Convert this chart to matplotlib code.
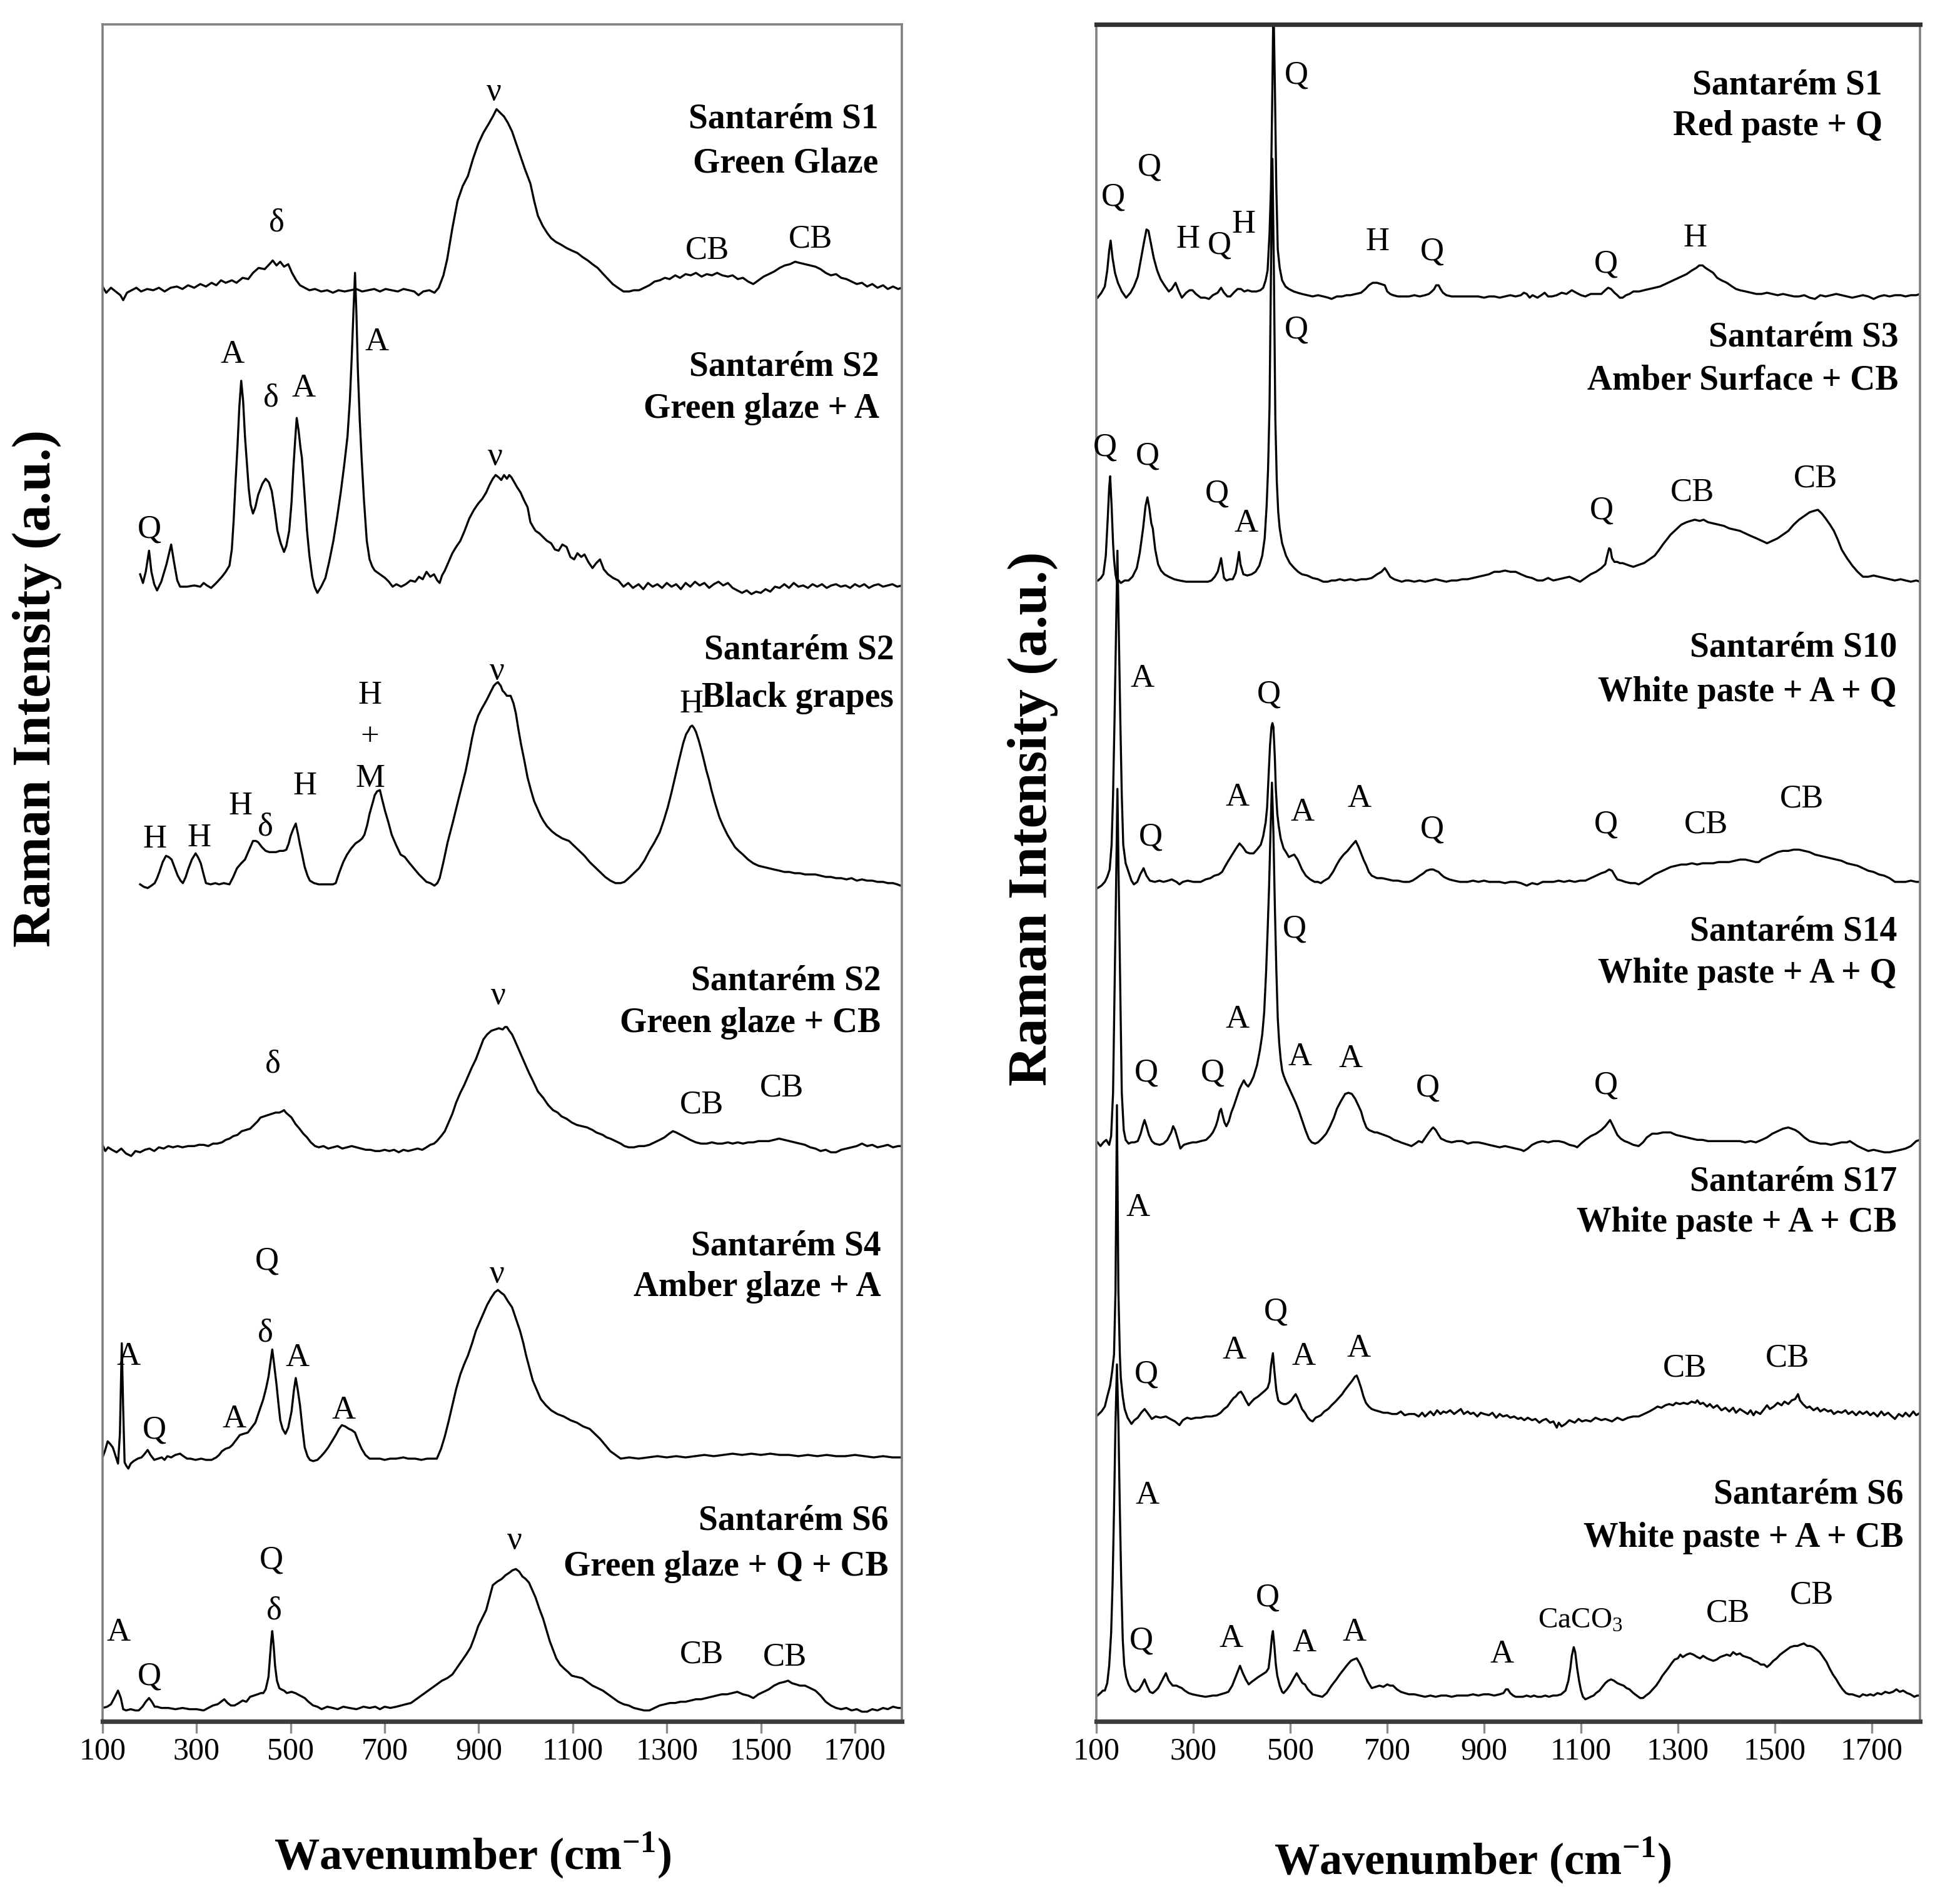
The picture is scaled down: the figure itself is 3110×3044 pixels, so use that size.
import numpy as np
import matplotlib
matplotlib.use('Agg')
import matplotlib.pyplot as plt

plt.rcParams['font.family'] = ['Liberation Serif', 'DejaVu Serif']
plt.rcParams['mathtext.fontset'] = 'custom'
plt.rcParams['mathtext.rm'] = 'Liberation Serif'
plt.rcParams['mathtext.bf'] = 'Liberation Serif:bold'

# ---- spectra: (wavenumber cm-1, intensity a.u.) ----
# left panel (glazes)
glaze_s1 = [(100,3),(108,-2),(118,2),(128,-1),(138,-4),(144,-8),(152,-2),(162,0),(172,2),(182,-1),(195,1),(208,0),(220,2),(232,-1),(245,2),(258,3),(270,1),(282,4),(295,2),(308,5),(320,3),(332,6),(342,4),(352,8),(362,6),(375,8),(385,6),(398,10),(410,9),(420,14),(432,18),(445,17),(455,21),(462,24),(470,20),(478,23),(486,19),(495,21),(503,14),(512,8),(520,4),(530,2),(540,0),(552,1),(565,-1),(578,0),(590,-2),(602,0),(615,-1),(628,0),(640,1),(652,-1),(665,0),(678,1),(690,-1),(702,1),(715,0),(728,-1),(740,1),(752,0),(763,-1),(772,-4),(782,-1),(795,0),(806,-2),(815,2),(825,12),(833,25),(844,50),(855,72),(866,84),(877,92),(888,106),(899,118),(910,127),(921,134),(930,140),(938,146),(946,143),(954,140),(962,135),(971,128),(980,118),(988,109),(998,98),(1010,86),(1018,72),(1026,60),(1036,52),(1046,46),(1054,42),(1064,39),(1074,37),(1087,34),(1098,32),(1110,30),(1120,27),(1132,24),(1142,21),(1153,18),(1165,13),(1175,9),(1185,5),(1196,2),(1208,-1),(1220,-1),(1230,0),(1241,0),(1252,2),(1263,4),(1274,7),(1285,8),(1296,10),(1306,9),(1318,12),(1328,10),(1340,13),(1351,12),(1362,14),(1374,11),(1385,13),(1396,12),(1407,14),(1418,12),(1430,11),(1440,12),(1451,9),(1462,10),(1473,7),(1484,5),(1495,8),(1506,11),(1517,13),(1528,15),(1540,18),(1551,20),(1562,21),(1573,23),(1583,22),(1594,21),(1605,20),(1616,19),(1627,17),(1638,14),(1649,12),(1660,13),(1671,10),(1682,9),(1693,7),(1704,5),(1715,6),(1726,3),(1737,5),(1748,2),(1760,4),(1770,1),(1781,3),(1792,1),(1800,2)]

glaze_s2_a = [(180,10),(186,3),(192,12),(199,29),(204,12),(210,2),(216,-3),(225,4),(236,18),(246,34),(252,20),(259,5),(265,0),(280,0),(295,1),(308,0),(315,3),(322,1),(331,-1),(342,3),(354,8),(362,12),(370,17),(375,30),(379,54),(383,85),(387,113),(391,145),(395,166),(399,150),(403,121),(407,100),(411,79),(415,66),(420,59),(425,64),(431,74),(440,83),(447,87),(454,84),(460,77),(466,62),(472,45),(479,35),(486,28),(491,33),(497,45),(502,68),(506,96),(510,120),(513,136),(517,126),(521,112),(524,104),(529,78),(535,45),(540,25),(546,8),(551,0),(557,-5),(565,0),(574,7),(582,20),(591,37),(599,56),(607,77),(614,98),(621,121),(626,150),(630,185),(634,225),(637,253),(640,220),(643,175),(647,135),(651,104),(656,70),(662,37),(668,22),(674,16),(679,13),(690,10),(701,7),(709,4),(717,0),(725,2),(735,0),(745,2),(755,5),(765,4),(773,8),(781,6),(789,12),(797,8),(805,10),(812,5),(817,3),(822,9),(828,13),(836,20),(844,27),(852,32),(861,37),(870,45),(880,55),(890,62),(899,67),(908,71),(916,76),(923,82),(930,87),(936,90),(943,88),(948,86),(954,90),(960,87),(965,90),(970,88),(976,84),(982,80),(989,76),(996,70),(1004,64),(1010,52),(1016,48),(1021,45),(1029,43),(1037,40),(1045,37),(1054,35),(1062,30),(1070,29),(1078,34),(1087,32),(1095,24),(1103,22),(1110,27),(1118,24),(1125,26),(1133,20),(1142,15),(1150,19),(1158,22),(1166,14),(1175,10),(1186,7),(1197,5),(1208,0),(1218,3),(1228,-1),(1240,2),(1250,-2),(1260,3),(1270,0),(1280,2),(1290,-1),(1300,3),(1310,0),(1320,2),(1330,-2),(1340,3),(1350,0),(1360,4),(1370,1),(1380,3),(1390,-1),(1400,2),(1410,4),(1420,1),(1430,3),(1440,-1),(1450,-3),(1460,-5),(1470,-3),(1480,-6),(1490,-4),(1500,-5),(1510,-2),(1520,-4),(1530,0),(1540,-1),(1550,2),(1560,-1),(1570,3),(1580,0),(1590,1),(1600,-1),(1610,2),(1620,0),(1630,2),(1640,-1),(1650,1),(1660,2),(1670,0),(1680,1),(1690,-1),(1700,2),(1710,0),(1720,2),(1730,-1),(1740,1),(1750,2),(1760,0),(1770,1),(1780,2),(1790,0),(1800,1)]

grapes_s2 = [(180,0),(188,-2),(196,-3),(204,-1),(211,1),(216,5),(221,10),(228,18),(235,23),(241,22),(247,20),(254,13),(260,7),(266,3),(271,1),(277,6),(282,12),(290,20),(298,25),(303,22),(309,17),(315,8),(320,1),(330,0),(340,1),(348,0),(358,1),(370,0),(378,6),(386,13),(395,17),(403,20),(412,28),(420,35),(426,35),(431,34),(439,30),(447,27),(455,26),(462,26),(469,26),(477,27),(485,27),(491,28),(496,33),(500,39),(506,45),(511,49),(516,40),(520,32),(524,25),(530,14),(536,7),(541,3),(550,1),(560,0),(568,0),(580,0),(590,0),(596,1),(603,9),(612,18),(620,24),(629,29),(638,33),(646,35),(652,37),(657,40),(663,48),(668,57),(674,65),(679,72),(684,75),(690,76),(695,68),(701,59),(708,50),(715,40),(724,32),(734,24),(743,22),(751,18),(762,13),(773,8),(781,5),(789,2),(797,1),(806,-1),(812,1),(817,5),(825,18),(834,34),(845,50),(856,67),(864,79),(872,91),(879,104),(886,118),(892,128),(899,136),(907,142),(916,148),(924,154),(932,160),(937,162),(941,163),(947,160),(951,156),(954,155),(960,152),(968,152),(974,146),(979,138),(984,126),(990,113),(997,100),(1004,86),(1011,76),(1018,67),(1025,61),(1032,55),(1038,51),(1045,47),(1055,43),(1065,40),(1078,37),(1092,35),(1103,31),(1114,27),(1125,23),(1136,18),(1147,14),(1158,10),(1169,6),(1180,3),(1191,1),(1202,1),(1210,2),(1219,5),(1230,9),(1241,13),(1252,19),(1263,27),(1274,34),(1285,42),(1294,52),(1302,62),(1310,74),(1318,87),(1326,100),(1335,114),(1341,121),(1346,124),(1350,127),(1354,128),(1358,126),(1362,123),(1368,116),(1373,109),(1379,100),(1384,92),(1390,84),(1395,76),(1403,65),(1412,54),(1420,47),(1429,40),(1437,35),(1445,30),(1453,27),(1462,24),(1473,20),(1484,17),(1495,15),(1506,14),(1517,13),(1528,12),(1540,11),(1550,10),(1561,10),(1572,9),(1583,9),(1594,8),(1605,8),(1616,8),(1627,7),(1638,6),(1649,6),(1660,5),(1671,5),(1682,4),(1693,5),(1704,3),(1715,4),(1726,3),(1737,3),(1748,2),(1760,2),(1770,1),(1781,1),(1790,0),(1797,-1)]

glaze_s2_cb = [(100,2),(106,-3),(112,0),(120,-2),(130,-4),(140,-1),(150,-5),(161,-7),(170,-3),(180,-4),(190,-2),(200,-1),(210,-3),(220,0),(230,-1),(240,1),(250,0),(260,1),(270,0),(282,1),(295,1),(305,2),(315,2),(325,1),(335,3),(344,3),(354,4),(362,6),(370,7),(378,9),(387,10),(396,13),(405,14),(414,15),(422,18),(430,21),(436,24),(444,25),(452,26),(460,27),(468,28),(476,28),(482,29),(486,30),(490,28),(496,26),(502,24),(510,19),(519,15),(527,11),(535,8),(543,4),(552,1),(560,0),(570,1),(580,-1),(590,0),(600,1),(610,-1),(620,0),(630,1),(640,0),(650,-1),(660,-2),(670,-2),(680,-3),(690,-3),(700,-2),(710,-3),(720,-2),(730,-4),(740,-2),(750,-3),(760,-2),(770,-1),(780,-2),(789,0),(797,2),(805,3),(811,5),(820,9),(828,13),(836,20),(844,27),(852,36),(861,44),(869,50),(877,57),(885,64),(894,71),(902,79),(910,87),(918,91),(927,94),(935,95),(943,96),(951,95),(956,97),(960,97),(965,94),(971,91),(977,86),(985,79),(993,72),(1000,66),(1007,60),(1016,53),(1026,45),(1037,40),(1048,34),(1058,30),(1068,28),(1076,25),(1087,23),(1098,20),(1109,18),(1120,17),(1131,16),(1136,15),(1142,14),(1150,12),(1157,11),(1164,10),(1172,8),(1180,7),(1191,5),(1202,3),(1210,1),(1219,0),(1230,0),(1241,1),(1252,1),(1263,2),(1274,4),(1285,6),(1295,8),(1305,11),(1313,13),(1320,12),(1330,10),(1340,8),(1350,6),(1362,4),(1373,3),(1385,3),(1396,4),(1407,3),(1418,3),(1430,4),(1440,3),(1451,4),(1462,3),(1473,4),(1484,4),(1495,5),(1506,5),(1517,5),(1528,6),(1539,7),(1550,6),(1561,5),(1572,4),(1583,3),(1594,2),(1605,0),(1616,-1),(1627,-3),(1638,-2),(1649,-4),(1660,-4),(1671,-2),(1682,-1),(1693,0),(1704,1),(1715,3),(1726,1),(1737,2),(1748,0),(1760,1),(1770,2),(1781,0),(1792,1),(1800,1)]

glaze_s4 = [(100,1),(105,6),(111,14),(116,12),(122,9),(128,2),(133,-4),(137,20),(141,93),(144,40),(147,-3),(151,-6),(155,-8),(160,-4),(166,-2),(175,0),(183,1),(190,4),(196,7),(202,3),(210,-1),(218,0),(226,1),(232,-1),(238,2),(246,1),(255,3),(265,4),(272,2),(280,0),(287,0),(298,-1),(310,0),(320,-1),(332,-1),(342,1),(348,3),(354,6),(362,8),(370,9),(376,11),(384,15),(392,19),(400,20),(409,21),(417,25),(425,29),(433,38),(442,48),(448,57),(453,66),(457,77),(461,88),(465,76),(470,60),(474,45),(478,31),(483,24),(489,20),(495,25),(502,38),(507,55),(511,65),(515,56),(520,43),(525,25),(530,9),(536,2),(541,-1),(548,-2),(557,-1),(565,2),(572,5),(580,9),(588,14),(596,19),(603,24),(609,27),(616,26),(624,24),(630,23),(637,21),(644,14),(651,8),(659,3),(668,0),(680,0),(690,0),(700,-1),(712,0),(725,0),(740,1),(750,0),(765,0),(778,-1),(790,0),(800,0),(811,0),(820,8),(828,18),(836,30),(844,43),(852,56),(861,68),(869,76),(877,83),(886,93),(894,103),(902,110),(910,117),(918,124),(927,130),(934,134),(941,136),(947,134),(954,132),(962,127),(971,122),(980,112),(988,103),(995,93),(1001,83),(1008,73),(1015,63),(1024,55),(1032,48),(1043,43),(1054,39),(1067,36),(1081,34),(1095,31),(1109,29),(1122,26),(1136,24),(1147,20),(1158,16),(1169,11),(1180,6),(1191,3),(1202,0),(1220,1),(1240,0),(1260,1),(1280,2),(1300,1),(1320,2),(1340,1),(1360,2),(1380,3),(1400,2),(1420,3),(1440,4),(1460,3),(1480,4),(1500,3),(1520,4),(1540,3),(1560,3),(1580,2),(1600,3),(1620,2),(1640,3),(1660,2),(1680,2),(1700,3),(1720,2),(1740,1),(1760,2),(1780,1),(1800,1)]

glaze_s6 = [(100,0),(110,1),(118,3),(125,8),(133,14),(139,8),(144,-1),(150,-2),(160,-1),(170,-2),(177,-2),(185,1),(192,5),(199,8),(205,5),(211,1),(216,1),(225,0),(240,0),(255,-1),(270,0),(285,-1),(300,-1),(315,-2),(325,0),(335,2),(345,3),(352,5),(359,7),(366,4),(373,2),(381,2),(390,4),(398,6),(406,5),(414,9),(422,10),(430,11),(437,12),(442,12),(447,15),(450,20),(453,25),(456,40),(459,55),(461,62),(464,50),(467,34),(471,22),(476,16),(480,15),(486,14),(492,12),(502,13),(510,12),(520,10),(530,8),(538,5),(548,2),(557,1),(566,-1),(578,1),(590,0),(600,-1),(612,1),(625,0),(640,-1),(655,1),(668,0),(680,1),(690,-1),(700,1),(712,0),(725,1),(735,2),(745,3),(756,4),(767,7),(778,10),(789,13),(800,16),(811,19),(822,22),(833,24),(844,27),(855,33),(866,39),(875,44),(883,49),(891,57),(899,66),(907,72),(916,79),(923,89),(930,99),(940,102),(949,104),(957,107),(965,109),(972,111),(979,112),(986,110),(993,106),(1000,104),(1007,101),(1014,95),(1021,89),(1029,80),(1037,72),(1044,63),(1051,54),(1058,47),(1065,40),(1073,35),(1081,32),(1090,29),(1098,26),(1109,25),(1120,24),(1131,21),(1142,18),(1153,16),(1164,14),(1175,11),(1186,8),(1197,5),(1208,3),(1219,2),(1230,0),(1241,-1),(1252,-2),(1263,-2),(1274,0),(1285,2),(1296,3),(1307,4),(1318,4),(1329,5),(1340,5),(1351,6),(1362,7),(1373,7),(1384,8),(1395,9),(1406,10),(1417,11),(1428,11),(1439,12),(1450,13),(1462,11),(1473,10),(1484,8),(1495,11),(1506,13),(1517,15),(1528,18),(1539,20),(1550,21),(1558,22),(1566,20),(1575,19),(1583,18),(1594,18),(1605,16),(1616,14),(1627,10),(1638,5),(1649,2),(1660,0),(1671,-1),(1682,0),(1693,-2),(1704,-1),(1715,-3),(1726,-3),(1737,-1),(1748,-2),(1760,0),(1770,-1),(1781,1),(1792,0),(1800,0)]

# right panel (pastes / surfaces)
paste_s1 = [(102,-2),(110,2),(117,7),(122,20),(126,36),(129,44),(133,30),(138,18),(144,10),(152,3),(161,-2),(170,2),(177,7),(185,15),(192,30),(198,43),(203,53),(207,52),(212,42),(218,30),(225,20),(232,13),(240,8),(249,3),(255,5),(263,10),(270,3),(276,-2),(285,2),(292,4),(298,4),(305,1),(315,-2),(324,-2),(332,-3),(340,0),(350,2),(357,6),(363,2),(370,-1),(376,-1),(383,2),(391,5),(398,5),(405,3),(412,4),(420,3),(430,3),(438,4),(444,6),(449,12),(453,20),(457,50),(460,87),(463,170),(465,240),(468,170),(471,87),(474,37),(478,22),(483,12),(490,7),(497,5),(507,3),(515,2),(524,1),(535,0),(546,-1),(557,0),(568,-1),(578,-2),(585,-3),(596,-1),(607,-1),(616,0),(624,0),(635,1),(646,2),(655,5),(662,8),(670,10),(679,10),(687,9),(695,8),(700,3),(706,1),(712,0),(722,-1),(733,-1),(745,-1),(756,0),(767,-1),(778,0),(786,1),(792,3),(797,5),(801,8),(806,8),(810,5),(815,2),(822,0),(833,-1),(844,-1),(855,-1),(866,-1),(877,-1),(888,-1),(900,-2),(910,-1),(921,-1),(932,-2),(943,-1),(954,0),(965,-1),(976,0),(982,2),(988,1),(994,-2),(1000,0),(1010,-2),(1018,0),(1025,2),(1032,-1),(1040,-1),(1050,0),(1060,2),(1070,1),(1081,4),(1090,2),(1100,0),(1109,-1),(1120,1),(1131,1),(1142,1),(1150,4),(1156,6),(1162,5),(1169,2),(1175,0),(1180,-2),(1186,-2),(1193,0),(1200,1),(1208,3),(1220,3),(1230,4),(1241,5),(1252,6),(1263,7),(1274,9),(1285,11),(1296,13),(1307,15),(1318,17),(1329,20),(1338,22),(1344,24),(1351,24),(1357,22),(1365,20),(1373,18),(1381,14),(1390,12),(1401,10),(1412,7),(1420,5),(1428,4),(1440,3),(1451,2),(1462,1),(1473,1),(1484,2),(1495,1),(1506,0),(1517,1),(1528,0),(1540,-1),(1550,-1),(1561,0),(1572,-2),(1583,-3),(1594,0),(1605,-1),(1616,0),(1627,1),(1638,0),(1649,-1),(1660,-2),(1671,-1),(1682,0),(1693,-1),(1704,-3),(1715,-1),(1726,0),(1737,-1),(1748,0),(1760,0),(1770,-1),(1781,0),(1792,0),(1800,1)]

surface_s3 = [(103,0),(109,2),(114,5),(119,20),(123,50),(126,75),(128,84),(131,60),(134,30),(136,17),(139,5),(142,-1),(146,0),(150,-2),(158,0),(166,0),(174,3),(183,10),(189,22),(196,42),(201,60),(205,67),(209,58),(213,46),(216,42),(221,25),(227,13),(233,8),(240,5),(249,3),(260,1),(271,0),(285,-1),(300,-1),(315,-1),(330,-1),(337,0),(344,3),(350,7),(354,13),(357,18),(360,10),(363,2),(368,0),(375,1),(381,1),(387,6),(391,15),(394,23),(397,13),(403,5),(411,4),(420,5),(428,7),(436,12),(442,20),(447,34),(451,60),(454,90),(457,140),(460,250),(463,340),(466,250),(469,130),(472,80),(475,55),(478,42),(483,30),(491,20),(499,14),(508,10),(516,7),(524,5),(535,4),(546,2),(557,1),(568,-1),(577,-1),(585,0),(593,0),(602,1),(612,0),(624,1),(635,0),(646,1),(657,1),(668,2),(679,5),(688,7),(695,10),(700,7),(706,3),(714,1),(722,0),(730,-1),(738,0),(745,0),(756,-1),(767,0),(778,-1),(789,0),(800,1),(811,0),(822,-1),(833,0),(844,0),(855,1),(866,1),(877,2),(888,3),(899,4),(910,5),(921,7),(932,7),(943,8),(954,7),(965,7),(976,5),(988,3),(999,2),(1010,0),(1021,0),(1032,2),(1043,0),(1054,1),(1065,2),(1076,3),(1087,1),(1098,-1),(1109,2),(1120,5),(1131,7),(1142,10),(1150,13),(1154,20),(1158,26),(1161,25),(1164,18),(1169,15),(1175,15),(1180,14),(1186,14),(1193,13),(1200,12),(1208,11),(1215,12),(1222,13),(1230,14),(1241,17),(1252,20),(1260,24),(1269,29),(1277,33),(1285,37),(1296,41),(1307,45),(1318,47),(1326,48),(1335,49),(1345,48),(1353,49),(1362,47),(1373,46),(1384,45),(1395,44),(1406,42),(1417,41),(1428,40),(1439,38),(1450,36),(1462,34),(1473,32),(1484,30),(1495,32),(1506,34),(1517,37),(1528,40),(1539,45),(1550,49),(1561,52),(1572,55),(1580,56),(1589,57),(1597,54),(1605,50),(1614,45),(1622,40),(1630,33),(1638,25),(1649,18),(1660,12),(1671,7),(1682,3),(1693,3),(1704,4),(1715,3),(1726,2),(1737,1),(1748,0),(1760,1),(1770,0),(1781,-1),(1792,0),(1800,-1)]

paste_s10 = [(102,-5),(110,-3),(117,0),(122,4),(127,10),(131,30),(134,70),(137,130),(140,200),(143,267),(146,200),(149,130),(152,70),(155,30),(160,15),(166,8),(172,1),(177,-2),(184,0),(190,6),(197,11),(203,5),(210,1),(220,0),(230,1),(238,0),(248,1),(255,2),(265,0),(271,-2),(278,0),(288,1),(300,0),(315,0),(325,2),(335,3),(343,5),(352,6),(359,8),(366,13),(372,17),(380,22),(388,27),(395,31),(402,28),(409,24),(416,23),(424,23),(431,26),(439,30),(444,37),(449,48),(452,60),(455,85),(458,110),(461,125),(463,128),(465,125),(468,100),(470,75),(473,55),(476,45),(480,35),(486,27),(491,24),(497,20),(502,21),(508,22),(515,18),(524,10),(532,5),(541,2),(550,0),(557,0),(563,-1),(570,1),(579,3),(588,8),(596,14),(602,18),(610,22),(618,25),(626,29),(635,33),(641,28),(646,23),(651,18),(657,13),(662,8),(668,5),(679,3),(690,3),(701,2),(712,1),(722,1),(733,0),(745,0),(752,1),(760,3),(767,5),(775,7),(781,9),(789,10),(795,10),(800,9),(806,8),(811,6),(817,4),(822,3),(828,2),(838,1),(850,0),(866,0),(877,1),(888,0),(900,1),(910,0),(921,0),(932,0),(943,-1),(954,0),(965,0),(976,-1),(988,-3),(999,-1),(1010,-2),(1021,0),(1032,0),(1043,0),(1054,1),(1065,0),(1076,1),(1087,0),(1098,1),(1109,1),(1120,3),(1131,5),(1142,7),(1150,8),(1158,10),(1164,9),(1170,5),(1175,2),(1184,1),(1191,0),(1202,-1),(1212,-1),(1219,-2),(1228,0),(1236,2),(1241,3),(1252,6),(1263,8),(1274,10),(1285,12),(1296,13),(1307,14),(1318,14),(1329,15),(1340,14),(1351,15),(1362,15),(1373,15),(1384,16),(1395,16),(1406,16),(1417,17),(1428,18),(1439,18),(1450,17),(1460,16),(1467,16),(1473,18),(1484,20),(1495,22),(1506,24),(1517,25),(1528,25),(1539,26),(1550,26),(1561,25),(1572,24),(1583,22),(1594,21),(1605,20),(1616,19),(1627,18),(1638,17),(1649,15),(1660,14),(1671,13),(1682,11),(1693,9),(1704,8),(1715,6),(1726,5),(1737,3),(1748,0),(1760,0),(1770,0),(1781,1),(1792,0),(1800,0)]

paste_s14 = [(102,0),(108,-3),(114,0),(120,2),(126,-2),(130,5),(134,40),(137,120),(140,200),(143,285),(146,200),(149,120),(152,40),(156,10),(160,2),(166,-1),(172,0),(178,0),(185,1),(191,7),(195,13),(199,18),(203,13),(208,6),(214,1),(220,-1),(230,-2),(238,-1),(246,2),(254,8),(258,13),(262,10),(268,2),(273,-5),(280,-2),(288,-1),(298,0),(306,0),(315,1),(326,2),(334,5),(340,8),(346,13),(350,18),(354,25),(357,27),(360,22),(364,16),(368,13),(373,17),(378,24),(383,29),(389,36),(395,43),(400,47),(404,50),(408,47),(413,45),(418,48),(424,53),(431,62),(437,74),(442,87),(446,105),(450,138),(453,170),(456,205),(459,250),(462,290),(465,250),(468,190),(471,140),(474,100),(477,80),(480,67),(483,58),(486,54),(491,49),(497,44),(504,38),(511,32),(518,25),(524,18),(531,10),(538,3),(544,0),(551,-1),(557,0),(565,3),(574,7),(582,13),(590,20),(596,27),(604,33),(610,37),(613,39),(620,40),(627,39),(634,35),(640,30),(646,25),(651,18),(657,12),(662,10),(668,9),(674,8),(679,8),(686,7),(693,6),(700,5),(706,4),(714,2),(722,1),(728,0),(735,-1),(743,-2),(750,-3),(758,-1),(765,1),(772,0),(779,4),(786,8),(792,11),(795,12),(800,10),(806,6),(811,3),(817,2),(822,1),(833,0),(844,1),(855,1),(866,-1),(877,0),(888,0),(900,-1),(910,-2),(921,-3),(932,-4),(943,-3),(954,-4),(965,-5),(976,-6),(982,-7),(990,-5),(999,-2),(1010,0),(1021,1),(1032,0),(1043,1),(1054,1),(1065,0),(1076,-2),(1087,-3),(1092,-4),(1100,-1),(1109,2),(1120,5),(1131,7),(1142,10),(1150,13),(1156,16),(1160,18),(1164,15),(1170,10),(1175,6),(1182,3),(1190,1),(1197,0),(1208,-2),(1219,-3),(1228,0),(1236,4),(1247,7),(1258,7),(1269,8),(1280,8),(1285,8),(1296,6),(1307,5),(1318,4),(1329,3),(1340,2),(1351,2),(1362,1),(1373,1),(1384,1),(1395,1),(1406,1),(1417,1),(1428,1),(1439,0),(1450,1),(1461,0),(1473,2),(1484,4),(1495,7),(1506,9),(1517,11),(1528,12),(1535,11),(1542,10),(1550,8),(1561,4),(1572,1),(1583,0),(1594,-1),(1605,-1),(1616,-2),(1627,-1),(1638,0),(1649,0),(1655,1),(1663,-1),(1671,-3),(1682,-5),(1693,-7),(1704,-6),(1715,-7),(1726,-8),(1737,-8),(1748,-7),(1760,-6),(1770,-5),(1781,-3),(1792,1),(1800,2)]

paste_s17 = [(102,0),(110,3),(117,7),(122,15),(128,24),(132,35),(136,49),(139,100),(142,250),(145,100),(148,49),(150,30),(154,15),(158,5),(164,-2),(172,-7),(178,-4),(185,-2),(192,2),(199,5),(205,2),(214,-3),(222,-1),(232,-2),(243,-1),(252,-3),(262,-5),(271,-8),(278,-4),(287,-2),(295,-3),(305,-2),(315,-2),(326,-1),(337,-1),(348,0),(356,2),(363,5),(370,7),(377,11),(383,14),(387,15),(393,18),(398,19),(403,16),(408,12),(414,8),(418,10),(425,13),(433,15),(442,18),(448,20),(453,22),(457,27),(460,40),(464,50),(467,36),(471,20),(475,12),(480,10),(486,9),(491,9),(496,10),(502,12),(507,15),(511,17),(515,14),(520,9),(524,5),(530,2),(536,-2),(541,-4),(546,-5),(552,-2),(558,-1),(563,0),(570,3),(578,5),(585,8),(593,11),(600,14),(607,17),(612,20),(620,24),(628,28),(633,31),(637,32),(641,28),(646,22),(651,15),(656,10),(662,7),(668,5),(675,4),(684,3),(692,2),(701,2),(710,1),(720,1),(728,3),(736,0),(745,1),(756,1),(765,-1),(772,2),(778,-1),(789,3),(796,0),(803,4),(810,1),(816,3),(822,2),(830,4),(838,1),(845,3),(852,5),(858,1),(866,3),(872,1),(878,2),(886,-1),(893,2),(900,1),(910,0),(917,2),(925,-2),(932,1),(939,-1),(947,0),(954,-2),(962,-1),(970,-3),(976,-2),(983,-4),(990,-2),(999,-4),(1006,-3),(1014,-6),(1021,-4),(1028,-3),(1036,-6),(1043,-5),(1050,-10),(1054,-6),(1060,-9),(1068,-7),(1076,-4),(1087,-6),(1095,-3),(1102,-5),(1110,-4),(1120,-5),(1130,-2),(1142,-4),(1150,-3),(1164,-5),(1175,-2),(1186,-4),(1197,-2),(1208,-1),(1219,-1),(1230,1),(1241,3),(1250,5),(1258,7),(1266,6),(1274,8),(1282,9),(1290,8),(1296,10),(1304,9),(1312,10),(1320,9),(1328,11),(1336,10),(1340,12),(1346,9),(1352,10),(1360,7),(1366,9),(1373,6),(1381,8),(1390,4),(1398,6),(1406,3),(1414,6),(1420,2),(1428,5),(1436,3),(1444,1),(1450,4),(1456,0),(1461,3),(1470,1),(1478,5),(1484,8),(1490,5),(1498,7),(1506,10),(1514,8),(1520,11),(1528,9),(1535,12),(1542,13),(1548,17),(1552,12),(1558,9),(1566,6),(1572,7),(1580,4),(1588,6),(1594,3),(1602,5),(1610,3),(1616,4),(1622,1),(1630,3),(1638,2),(1646,4),(1652,1),(1660,3),(1668,0),(1675,3),(1682,1),(1690,3),(1697,0),(1704,2),(1712,-1),(1720,3),(1726,0),(1734,2),(1742,-1),(1748,-3),(1756,1),(1764,-1),(1770,2),(1778,-1),(1786,3),(1792,0),(1800,2)]

paste_s6 = [(102,0),(108,2),(113,4),(117,4),(122,10),(126,24),(130,50),(133,90),(136,150),(139,220),(142,267),(145,220),(148,150),(151,90),(154,45),(157,25),(161,15),(166,9),(172,5),(180,3),(188,5),(194,9),(199,13),(204,8),(210,3),(216,2),(222,4),(227,6),(235,12),(243,18),(249,12),(257,8),(265,8),(270,7),(276,6),(282,4),(290,2),(298,1),(310,0),(325,-1),(340,0),(348,0),(356,1),(365,2),(372,3),(380,8),(388,16),(396,24),(402,18),(408,13),(414,9),(420,11),(427,13),(434,15),(442,17),(450,19),(455,22),(459,35),(462,48),(464,52),(467,40),(470,25),(473,16),(478,8),(483,3),(486,2),(493,5),(500,9),(507,14),(513,18),(519,14),(525,10),(530,9),(536,5),(541,3),(546,1),(555,0),(566,-1),(575,2),(585,8),(595,13),(602,17),(610,21),(618,25),(625,28),(630,29),(637,30),(643,26),(648,22),(654,16),(660,11),(668,6),(676,7),(684,8),(692,7),(700,9),(706,8),(712,8),(720,5),(728,3),(736,2),(745,1),(756,1),(767,0),(778,-1),(789,0),(800,-1),(811,0),(822,0),(833,-1),(844,0),(855,0),(866,0),(877,1),(888,0),(899,1),(910,1),(921,0),(932,1),(940,2),(945,5),(949,5),(954,2),(960,0),(965,-1),(972,-1),(980,-1),(988,0),(996,-1),(1003,0),(1010,-1),(1018,-1),(1026,0),(1034,-1),(1042,0),(1050,0),(1059,1),(1068,4),(1074,12),(1078,22),(1081,32),(1085,39),(1088,35),(1092,22),(1096,12),(1100,4),(1104,-1),(1109,-3),(1115,-2),(1120,-1),(1126,0),(1131,2),(1138,4),(1144,7),(1150,10),(1156,12),(1162,13),(1168,12),(1175,10),(1181,9),(1188,8),(1194,6),(1200,5),(1208,2),(1215,0),(1222,-2),(1228,-2),(1234,0),(1241,2),(1248,5),(1255,8),(1262,12),(1268,16),(1274,19),(1280,22),(1287,26),(1293,29),(1300,30),(1305,33),(1310,31),(1318,33),(1325,34),(1332,33),(1340,31),(1346,30),(1352,32),(1360,30),(1366,29),(1373,28),(1380,29),(1387,31),(1394,32),(1401,33),(1408,32),(1414,35),(1421,33),(1428,34),(1434,32),(1442,31),(1450,30),(1457,28),(1464,27),(1471,25),(1478,25),(1484,23),(1490,25),(1497,28),(1504,30),(1511,33),(1518,35),(1525,37),(1532,39),(1540,40),(1547,40),(1553,41),(1560,42),(1567,40),(1573,40),(1580,39),(1587,37),(1593,35),(1600,31),(1607,27),(1613,22),(1620,17),(1627,13),(1633,9),(1640,5),(1647,2),(1653,1),(1660,1),(1667,0),(1675,-1),(1682,1),(1690,0),(1697,1),(1704,0),(1712,2),(1720,1),(1728,3),(1736,2),(1744,3),(1751,5),(1758,3),(1765,4),(1773,2),(1780,1),(1788,-1),(1794,0),(1800,0)]

left_spectra = [glaze_s1, glaze_s2_a, grapes_s2, glaze_s2_cb, glaze_s4, glaze_s6]
left_offsets = [1154, 915, 675, 463, 212, 11]
right_spectra = [paste_s1, surface_s3, paste_s10, paste_s14, paste_s17, paste_s6]
right_offsets = [1150, 920, 677, 467, 247, 21]

# sample names: (line 1, line 2, right edge wavenumber, y line 1, y line 2)
left_titles = [
    ('Santarém S1', 'Green Glaze', 1750, 1292, 1256),
    ('Santarém S2', 'Green glaze + A', 1752, 1092, 1058),
    ('Santarém S2', 'Black grapes', 1783, 864, 825),
    ('Santarém S2', 'Green glaze + CB', 1755, 597, 563),
    ('Santarém S4', 'Amber glaze + A', 1755, 383, 350),
    ('Santarém S6', 'Green glaze + Q + CB', 1771, 162, 125),
]
right_titles = [
    ('Santarém S1', 'Red paste + Q', 1722, 1319, 1286),
    ('Santarém S3', 'Amber Surface + CB', 1755, 1116, 1081),
    ('Santarém S10', 'White paste + A + Q', 1752, 866, 830),
    ('Santarém S14', 'White paste + A + Q', 1752, 637, 603),
    ('Santarém S17', 'White paste + A + CB', 1752, 435, 402),
    ('Santarém S6', 'White paste + A + CB', 1766, 183, 148),
]

# band assignments (label, wavenumber, height)
left_marks = [
    ('ν', 933, 1314), ('δ', 470, 1208), ('CB', 1386, 1186), ('CB', 1606, 1195),
    ('A', 376, 1102), ('δ', 459, 1067), ('A', 528, 1075), ('A', 683, 1112), ('Q', 200, 961), ('ν', 935, 1020),
    ('H', 211, 711), ('H', 305, 712), ('H', 393, 738), ('δ', 446, 721), ('H', 531, 754),
    ('H', 669, 827), ('+', 669, 794), ('M', 669, 760), ('ν', 939, 847), ('H', 1352, 820),
    ('ν', 942, 585), ('δ', 462, 530), ('CB', 1374, 497), ('CB', 1545, 511),
    ('Q', 450, 371), ('δ', 446, 313), ('A', 156, 294), ('Q', 211, 235), ('A', 380, 244),
    ('A', 514, 293), ('A', 613, 251), ('ν', 939, 361),
    ('Q', 459, 130), ('δ', 465, 89), ('A', 134, 72), ('Q', 200, 36), ('ν', 977, 146),
    ('CB', 1374, 54), ('CB', 1551, 52),
]
right_marks = [
    ('Q', 512, 1327), ('Q', 134, 1229), ('Q', 209, 1253), ('H', 288, 1195), ('Q', 354, 1190),
    ('H', 404, 1207), ('H', 680, 1193), ('Q', 793, 1185), ('Q', 1151, 1175), ('H', 1336, 1196),
    ('Q', 512, 1122), ('Q', 117, 1027), ('Q', 205, 1020), ('Q', 349, 990), ('A', 409, 966),
    ('Q', 1143, 976), ('CB', 1330, 991), ('CB', 1584, 1002),
    ('A', 194, 841), ('Q', 456, 828), ('Q', 211, 713), ('A', 391, 745), ('A', 525, 733),
    ('A', 643, 744), ('Q', 793, 719), ('Q', 1152, 723), ('CB', 1358, 723), ('CB', 1556, 744),
    ('Q', 509, 639), ('A', 391, 566), ('Q', 202, 523), ('Q', 340, 523), ('A', 520, 536),
    ('A', 624, 534), ('Q', 784, 511), ('Q', 1151, 513),
    ('A', 185, 414), ('Q', 470, 330), ('Q', 202, 280), ('A', 384, 299), ('A', 527, 294),
    ('A', 641, 301), ('CB', 1314, 285), ('CB', 1526, 293),
    ('A', 205, 182), ('Q', 192, 65), ('A', 378, 67), ('Q', 453, 100), ('A', 529, 63),
    ('A', 632, 72), ('A', 937, 54), ('$\\mathregular{CaCO_3}$', 1099, 81), ('CB', 1404, 87), ('CB', 1576, 102),
]

wn_ticks = [100, 300, 500, 700, 900, 1100, 1300, 1500, 1700]

fig = plt.figure(figsize=(15.55, 15.22), dpi=200)
ax_l = fig.add_axes([0.0527, 0.0958, 0.4110, 0.8915])
ax_r = fig.add_axes([0.5638, 0.0958, 0.4234, 0.8915])


def draw_panel(ax, spectra, offsets, titles, marks):
    for spec, off in zip(spectra, offsets):
        arr = np.array(spec, dtype=float)
        ax.plot(arr[:, 0], arr[:, 1] + off, color='black', lw=1.2)
    for l1, l2, xr, y1, y2 in titles:
        ax.text(xr, y1, l1, ha='right', va='center', fontsize=20, fontweight='bold')
        ax.text(xr, y2, l2, ha='right', va='center', fontsize=20, fontweight='bold')
    for lab, x, y in marks:
        fs = 17 if 'CaCO' in lab else 19
        ax.text(x, y, lab, ha='center', va='center', fontsize=fs)
    ax.set_xlim(100, 1800)
    ax.set_ylim(0, 1368.5)
    ax.set_xticks(wn_ticks)
    ax.set_yticks([])
    ax.tick_params(axis='x', direction='out', length=7, width=1.2, color='#8c8c8c',
                   labelsize=18, pad=2)
    for s in ['left', 'right', 'top']:
        ax.spines[s].set_color('#808080')
        ax.spines[s].set_linewidth(1.3)
    ax.spines['bottom'].set_color('#3c3c3c')
    ax.spines['bottom'].set_linewidth(2.6)


draw_panel(ax_l, left_spectra, left_offsets, left_titles, left_marks)
draw_panel(ax_r, right_spectra, right_offsets, right_titles, right_marks)
ax_r.spines['top'].set_color('#303030')
ax_r.spines['top'].set_linewidth(2.6)

xlab = 'Wavenumber (cm$^{\\mathbf{-1}}$)'
fig.text(0.243, 0.0254, xlab, ha='center', va='center', fontsize=26, fontweight='bold')
fig.text(0.757, 0.0228, xlab, ha='center', va='center', fontsize=26, fontweight='bold')
fig.text(0.0191, 0.6384, 'Raman Intensity (a.u.)', rotation=90, ha='center', va='center',
         fontsize=31, fontweight='bold')
fig.text(0.531, 0.570, 'Raman Intensity (a.u.)', rotation=90, ha='center', va='center',
         fontsize=32, fontweight='bold')

fig.savefig('out.png', dpi=200, facecolor='white')
